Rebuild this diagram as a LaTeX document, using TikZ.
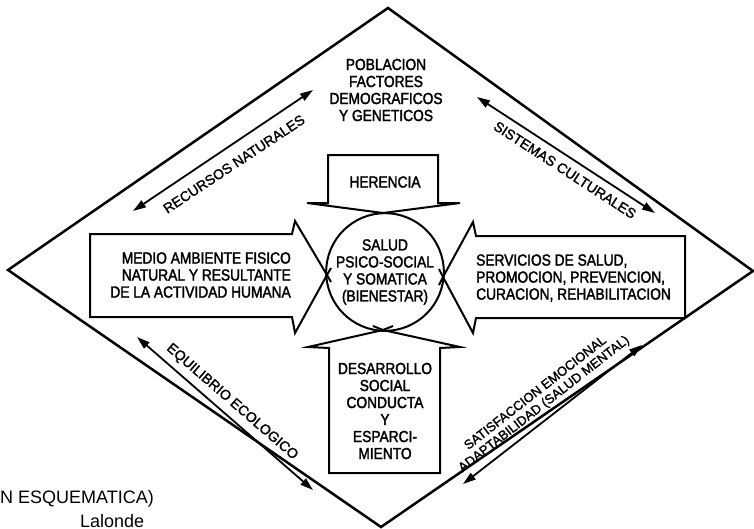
\documentclass[tikz,border=0pt]{standalone}
\usepackage{fontspec}
\setmainfont{Liberation Sans}[FakeStretch=0.86,FakeBold=2]
\newfontfamily\lblfont{Liberation Sans}[FakeBold=1.5]
\newfontfamily\notefont{Liberation Sans}
\usetikzlibrary{arrows.meta}

\begin{document}
\begin{tikzpicture}[x=1pt,y=-1pt,
        txt/.style={align=center,inner sep=0pt,font=\fontsize{16}{17}\selectfont},
        lbl/.style={align=center,inner sep=0pt,font=\lblfont\fontsize{14}{14}\selectfont},
        blk/.style={line width=2pt,line join=miter},
        dbl/.style={line width=1.8pt,{Triangle[length=13pt,width=8pt]}-{Triangle[length=13pt,width=8pt]}}]
        \useasboundingbox (0,0) rectangle (754,528);
        \draw[line width=2.5pt,line join=miter] (388,8) -- (753,271) -- (381,527) -- (8,270) -- cycle;
        \draw[blk] (90,234) -- (292,234) -- (295,221) -- (327,275) -- (295,333) -- (292,317) -- (90,317) -- cycle;
        \draw[blk] (327,275) -- (331,282) (327,275) -- (331,268);
        \draw[blk] (685,236) -- (476,236) -- (473,222) -- (443,277) -- (473,333) -- (476,318) -- (685,318) -- cycle;
        \draw[blk] (443,277) -- (439,285) (443,277) -- (439,269);
        \draw[blk] (328,203) -- (328,155) -- (438,155) -- (438,203) -- (460,203) -- (383,213) -- (307,203) -- cycle;
        \draw[blk] (329,473) -- (329,348) -- (308,347) -- (383,330) -- (460,347) -- (440,348) -- (440,473) -- cycle;
        \draw[blk] (383,330) -- (373,326) (383,330) -- (393,326);
        \node[txt,circle,draw,line width=2pt,minimum size=117pt] (sal) at (385,272) {SALUD\\PSICO-SOCIAL\\Y SOMATICA\\(BIENESTAR)};
        \node[txt] (pob) at (386,90) {POBLACION\\FACTORES\\DEMOGRAFICOS\\Y GENETICOS};
        \node[txt] (her) at (385,182) {HERENCIA};
        \node[txt,align=right,anchor=east] (med) at (291,275) {MEDIO AMBIENTE FISICO\\NATURAL Y RESULTANTE\\DE LA ACTIVIDAD HUMANA};
        \node[txt,align=left,anchor=west] (ser) at (476,278) {SERVICIOS DE SALUD,\\PROMOCION, PREVENCION,\\CURACION, REHABILITACION};
        \node[txt] (des) at (385,411) {DESARROLLO\\SOCIAL\\CONDUCTA\\Y\\ESPARCI-\\MIENTO};
        \node[lbl,rotate=33.5] (rec) at (234,164) {RECURSOS NATURALES};
        \node[lbl,rotate=-33] (sis) at (565,170) {SISTEMAS CULTURALES};
        \node[lbl,rotate=-41] (equ) at (232,402) {EQUILIBRIO ECOLOGICO};
        \node[lbl,rotate=38,font=\lblfont\fontsize{13}{14}\selectfont] (sat) at (540,399) {SATISFACCION EMOCIONAL\\ADAPTABILIDAD (SALUD MENTAL)};
        \coordinate (rec1) at (133,211);
        \coordinate (rec2) at (313,90);
        \coordinate (sis1) at (477,97);
        \coordinate (sis2) at (655,213);
        \coordinate (equ1) at (137,337);
        \coordinate (equ2) at (313,490);
        \coordinate (sat1) at (642,345);
        \coordinate (sat2) at (463,484);
        \draw[dbl] (rec1) -- (rec2);
        \draw[dbl] (sis1) -- (sis2);
        \draw[dbl] (equ1) -- (equ2);
        \draw[dbl] (sat1) -- (sat2);
        \node[anchor=base west,inner sep=0pt,font=\notefont\fontsize{18}{24}\selectfont] (nota) at (0,503) {N ESQUEMATICA)};
        \node[anchor=base west,inner sep=0pt,font=\notefont\fontsize{18}{24}\selectfont] (autor) at (80,527) {Lalonde};
    \end{tikzpicture}
\end{document}
